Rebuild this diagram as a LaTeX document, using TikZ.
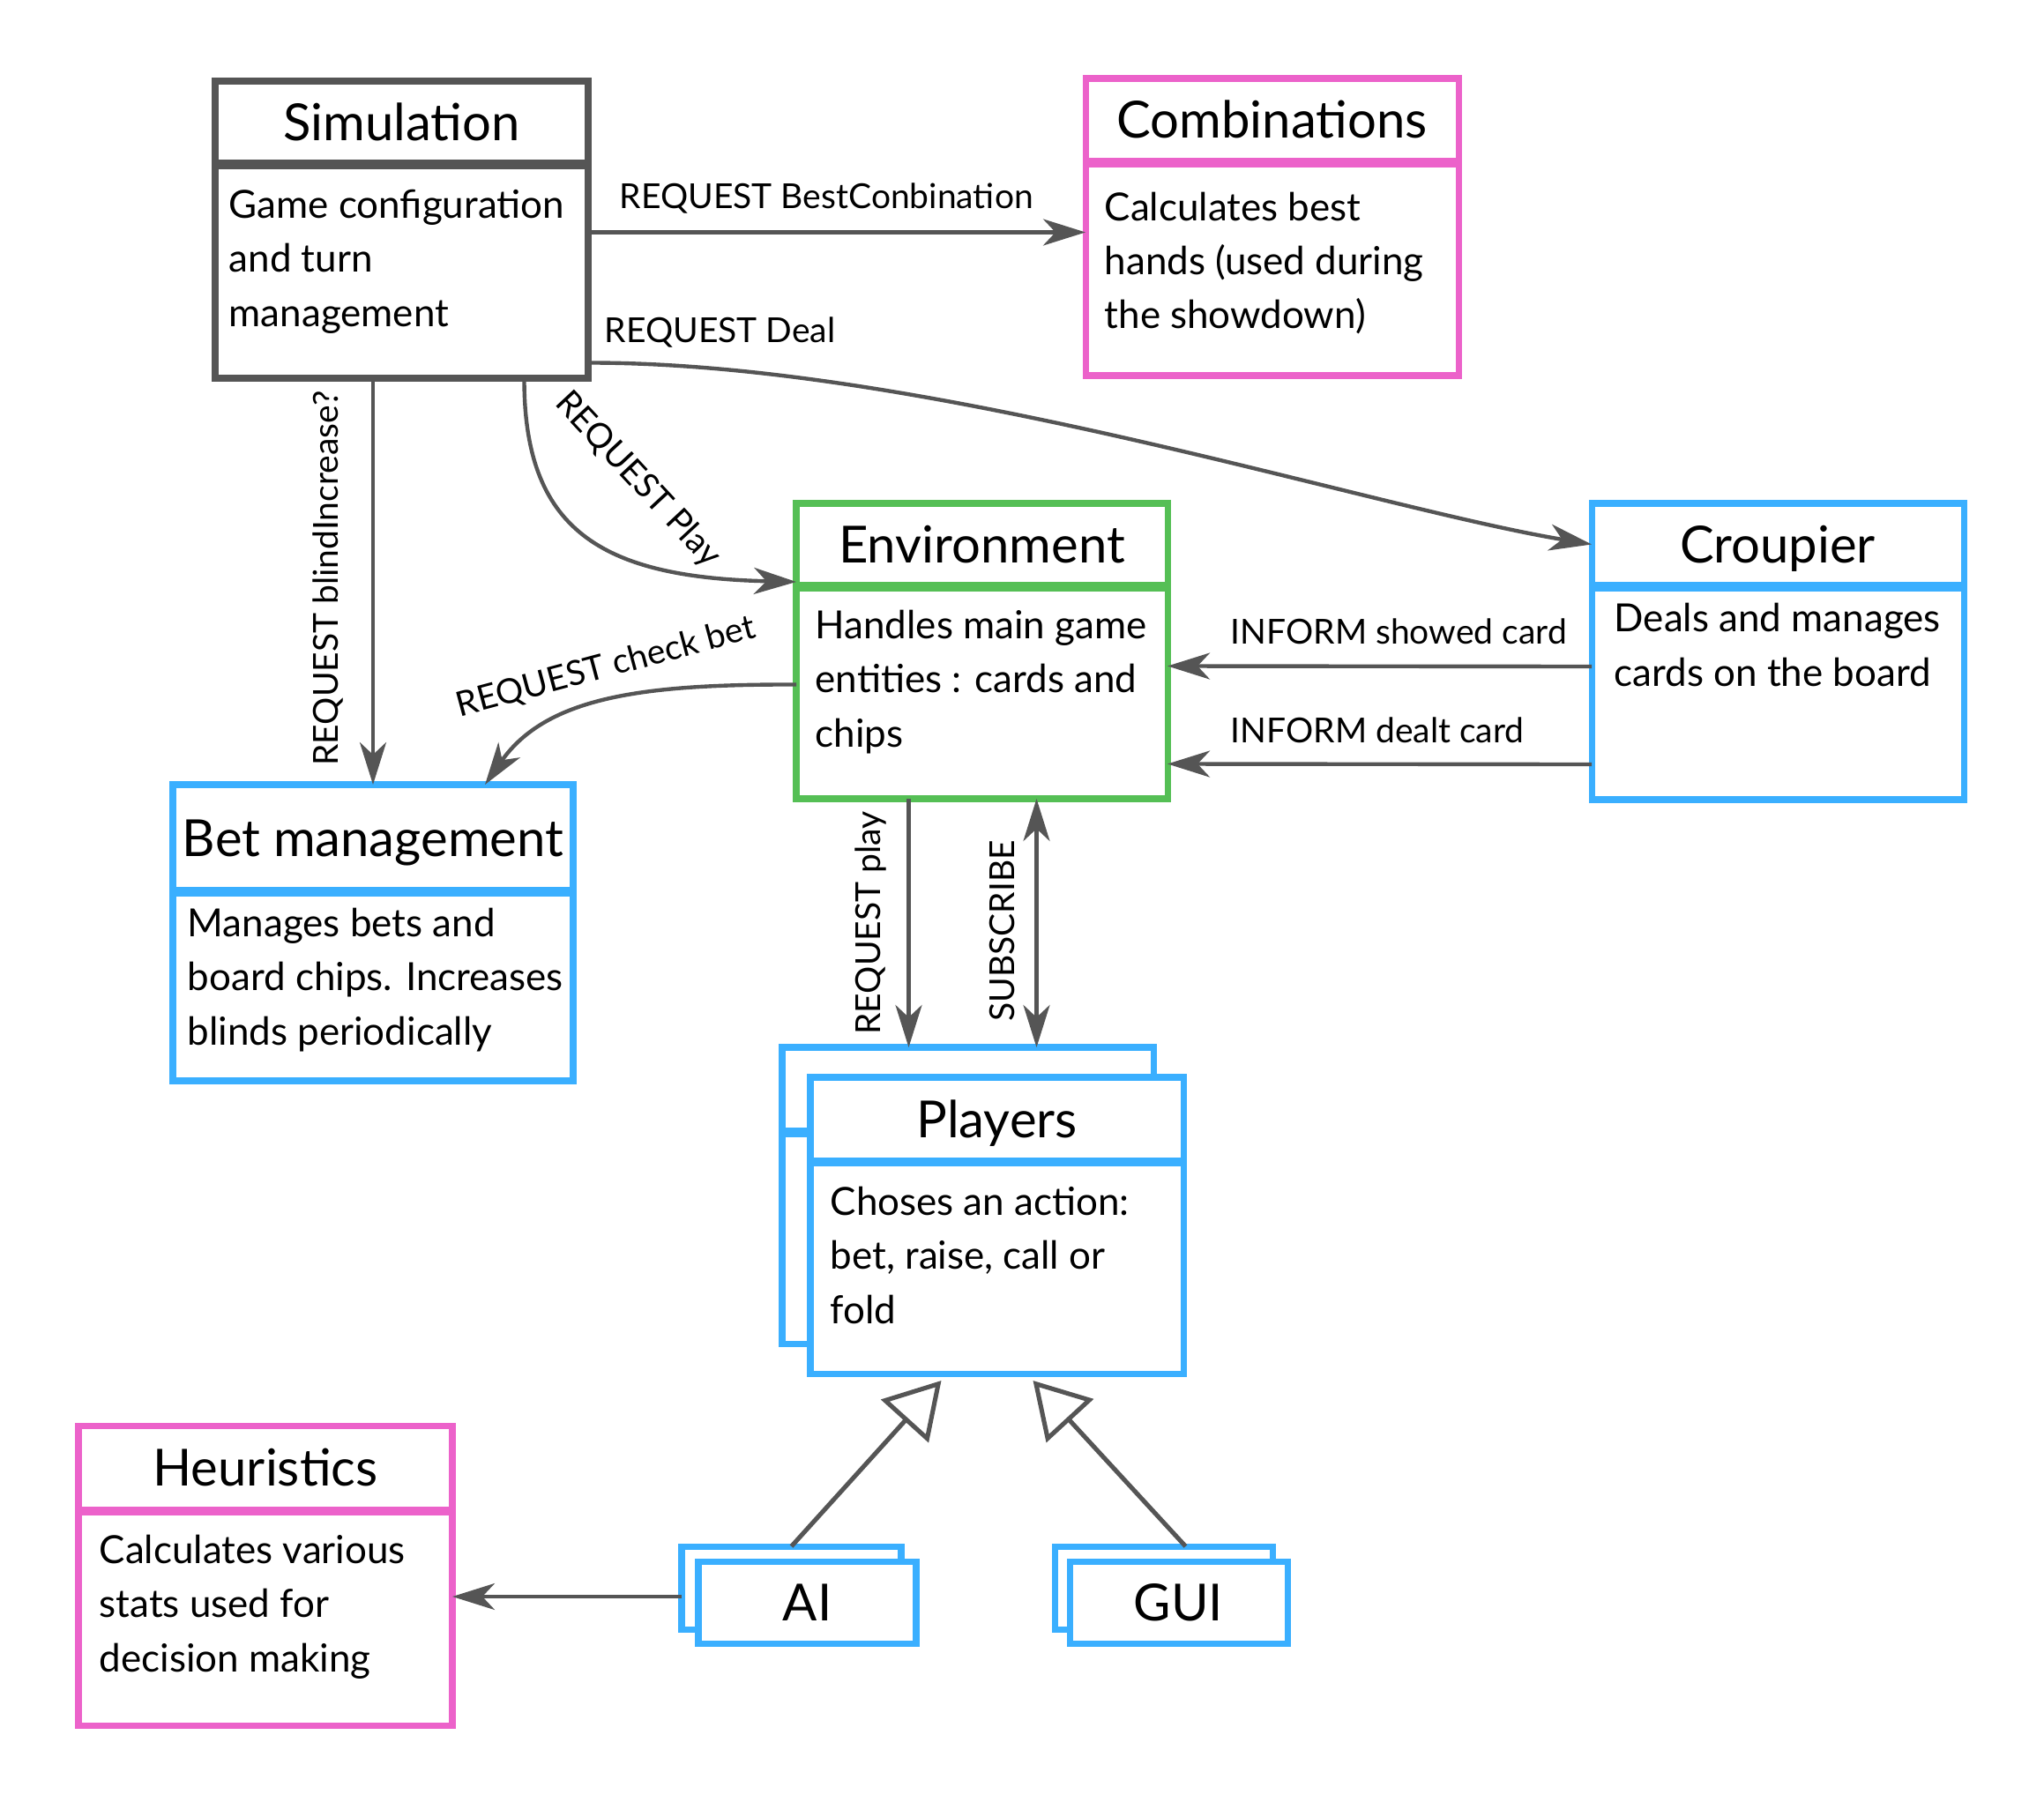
\documentclass[tikz,border=0pt]{standalone}
\usepackage{fontspec}
\setmainfont{Lato}
\usetikzlibrary{arrows.meta}

\definecolor{simgray}{HTML}{555555}
\definecolor{combpink}{HTML}{EC62CA}
\definecolor{envgreen}{HTML}{55BF55}
\definecolor{agentblue}{HTML}{3AAFFF}

\begin{document}
\begin{tikzpicture}[>={Stealth[length=0.48cm,width=0.3cm,inset=0.14cm]},
    hdr/.style={draw, line width=2pt, fill=white, anchor=north west, outer sep=0pt,
      inner sep=0pt, text height=0.42cm, text depth=0pt, font=\fontsize{16.5}{20}\selectfont},
    bodyrect/.style={draw, line width=2pt, fill=white, anchor=north west, outer sep=0pt, inner sep=0pt},
    desc/.style={anchor=base west, align=left, inner sep=0pt, font=\fontsize{12.5}{17.4}\selectfont},
    lbl/.style={inner sep=0pt, font=\fontsize{11.1}{13}\selectfont},
    conn/.style={draw=simgray, line width=1.25pt, ->},
    inherit/.style={draw=simgray, line width=1.45pt, -{Triangle[open,length=0.62cm,width=0.72cm,fill=white]}}
  ]

  \useasboundingbox (0,0) rectangle (23.18,-20.44);

%%%%%%%%%%%%%%%%%%%%%%%%%%%%%%%%%%%%%%%%%%
  % Simulation
  \node[hdr, draw=simgray, minimum width=4.23cm, minimum height=0.93cm] (simH) at (2.44,-0.92) {Simulation};
  \node[bodyrect, draw=simgray, minimum width=4.23cm, minimum height=2.41cm] (simB) at ([yshift=-0.03cm]simH.south west) {};
  % base of a multi-line node is its last line
  \node[desc] (simT) at (2.59,-3.70) {Game configuration\\and turn\\management};

  % Combinations
  \node[hdr, draw=combpink, minimum width=4.23cm, minimum height=0.94cm] (combH) at (12.31,-0.89) {Combinations};
  \node[bodyrect, draw=combpink, minimum width=4.23cm, minimum height=2.40cm] (combB) at ([yshift=-0.03cm]combH.south west) {};
  \node[desc] (combT) at (12.52,-3.73) {Calculates best\\hands (used during\\the showdown)};

  % Environment
  \node[hdr, draw=envgreen, minimum width=4.21cm, minimum height=0.93cm] (envH) at (9.03,-5.71) {Environment};
  \node[bodyrect, draw=envgreen, minimum width=4.21cm, minimum height=2.39cm] (envB) at ([yshift=-0.03cm]envH.south west) {};
  \node[desc] (envT) at (9.24,-8.47) {Handles main game\\entities : cards and\\chips};

  % Croupier
  \node[hdr, draw=agentblue, minimum width=4.22cm, minimum height=0.93cm] (crH) at (18.05,-5.71) {Croupier};
  \node[bodyrect, draw=agentblue, minimum width=4.22cm, minimum height=2.40cm] (crB) at ([yshift=-0.03cm]crH.south west) {};
  \node[desc] (crT) at (18.30,-7.78) {Deals and manages\\cards on the board};

  % Bet management
  \node[hdr, draw=agentblue, minimum width=4.54cm, minimum height=1.20cm] (betH) at (1.96,-8.90) {Bet management};
  \node[bodyrect, draw=agentblue, minimum width=4.54cm, minimum height=2.13cm] (betB) at ([yshift=-0.03cm]betH.south west) {};
  \node[desc] (betT) at (2.12,-11.85) {Manages bets and\\board chips. Increases\\blinds periodically};

  % Players (stacked)
  \node[hdr, draw=agentblue, minimum width=4.21cm, minimum height=0.95cm] (plBackH) at (8.87,-11.88) {};
  \node[bodyrect, draw=agentblue, minimum width=4.21cm, minimum height=2.38cm] (plBackB) at ([yshift=-0.03cm]plBackH.south west) {};
  \node[hdr, draw=agentblue, minimum width=4.23cm, minimum height=0.94cm] (plH) at (9.19,-12.22) {Players};
  \node[bodyrect, draw=agentblue, minimum width=4.23cm, minimum height=2.39cm] (plB) at ([yshift=-0.03cm]plH.south west) {};
  \node[desc] (plT) at (9.41,-15.01) {Choses an action:\\bet, raise, call or\\fold};

  % Heuristics
  \node[hdr, draw=combpink, minimum width=4.24cm, minimum height=0.95cm] (heurH) at (0.89,-16.17) {Heuristics};
  \node[bodyrect, draw=combpink, minimum width=4.24cm, minimum height=2.42cm] (heurB) at ([yshift=-0.03cm]heurH.south west) {};
  \node[desc] (heurT) at (1.12,-18.96) {Calculates various\\stats used for\\decision making};

  % AI and GUI (stacked)
  \node[hdr, draw=agentblue, minimum width=2.49cm, minimum height=0.94cm] (aiBack) at (7.73,-17.54) {};
  \node[hdr, draw=agentblue, minimum width=2.47cm, minimum height=0.93cm] (ai) at (7.92,-17.71) {AI};
  \node[hdr, draw=agentblue, minimum width=2.47cm, minimum height=0.94cm] (guiBack) at (11.96,-17.54) {};
  \node[hdr, draw=agentblue, minimum width=2.47cm, minimum height=0.93cm] (gui) at (12.13,-17.71) {GUI};

%%%%%%%%%%%%%%%%%%%%%%%%%%%%%%%%%%%%%%%%%%
  % Messages
  \draw[conn] ([yshift=0.45cm]simB.east) -- ([yshift=0.45cm]simB.east -| combB.west);
  \node[lbl, anchor=base west] (lblBest) at (7.02,-2.37) {REQUEST BestConbination};

  \draw[conn] ([yshift=-1.03cm]simB.east) .. controls (10.5,-4.11) and (15.5,-5.75) .. (crH.west);
  \node[lbl, anchor=base west] (lblDeal) at (6.85,-3.88) {REQUEST Deal};

  \draw[conn] (simB.south -| betH.north) -- (betH.north);
  \node[lbl, rotate=90] (lblBlind) at (3.72,-6.56) {REQUEST blindIncrease?};

  \draw[conn] ([xshift=1.39cm]simB.south) .. controls (5.94,-6.0) and (6.8,-6.55) .. ([yshift=0.04cm]envH.south west);
  \node[lbl, rotate=-47] (lblPlay) at (7.23,-5.44) {REQUEST Play};

  \draw[conn] ([yshift=0.1cm]envB.west) .. controls (7.3,-7.76) and (6.2,-7.9) .. ([xshift=1.27cm]betH.north);
  \node[lbl, rotate=15] (lblCheck) at (6.87,-7.57) {REQUEST check bet};

  \draw[conn] ([yshift=0.31cm]crB.west) -- ([yshift=0.31cm]envB.east);
  \node[lbl, anchor=base west] (lblShow) at (13.95,-7.30) {INFORM showed card};
  \draw[conn] ([yshift=-0.80cm]crB.west) -- ([yshift=-0.80cm]envB.east);
  \node[lbl, anchor=base west] (lblDealt) at (13.95,-8.42) {INFORM dealt card};

  \draw[conn] ([xshift=-0.83cm]envB.south) -- ([xshift=-0.83cm]envB.south |- plBackH.north);
  \node[lbl, rotate=90] (lblReq) at (9.87,-10.47) {REQUEST play};
  \draw[conn, <->] ([xshift=0.62cm]envB.south) -- ([xshift=0.62cm]envB.south |- plBackH.north);
  \node[lbl, rotate=90] (lblSub) at (11.37,-10.56) {SUBSCRIBE};

  % Inheritance
  \draw[inherit] (aiBack.north) -- ([xshift=-0.63cm,yshift=-0.08cm]plB.south);
  \draw[inherit] ([xshift=0.25cm]guiBack.north) -- ([xshift=0.41cm,yshift=-0.08cm]plB.south);

  \draw[conn] ([yshift=-0.1cm]aiBack.west) -- ([yshift=-0.1cm]aiBack.west -| heurB.east);

\end{tikzpicture}
\end{document}
